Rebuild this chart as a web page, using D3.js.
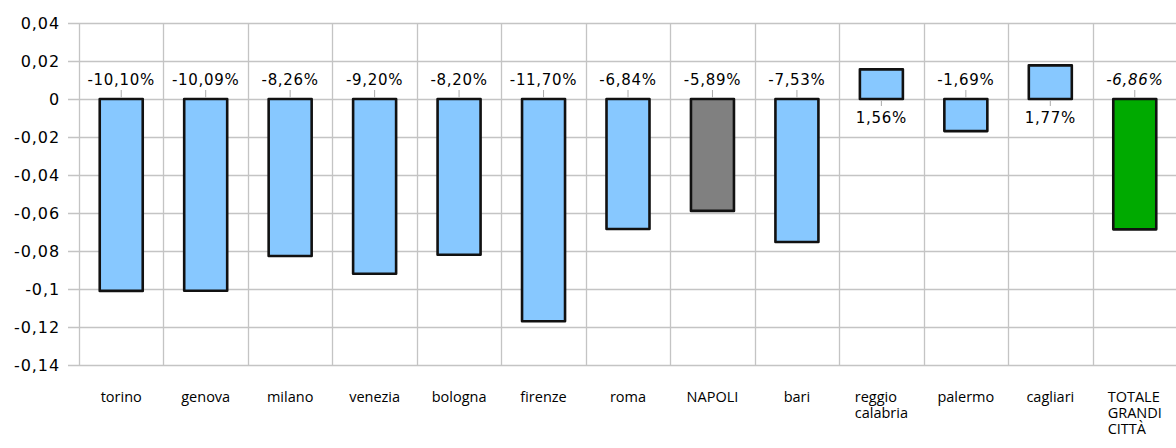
<!DOCTYPE html>
<html><head><meta charset="utf-8">
<script src="https://cdn.jsdelivr.net/npm/d3@7"></script>
<style>body{margin:0;background:#fff}svg{display:block}</style>
</head><body><svg id="c" width="1176" height="448"></svg>
<script>
const categories = ["torino","genova","milano","venezia","bologna","firenze","roma","NAPOLI","bari","reggio\ncalabria","palermo","cagliari","TOTALE\nGRANDI\nCITTÀ"];
const values = [-0.1010,-0.1009,-0.0826,-0.0920,-0.0820,-0.1170,-0.0684,-0.0589,-0.0753,0.0156,-0.0169,0.0177,-0.0686];
const barColors = ["#87c8ff","#87c8ff","#87c8ff","#87c8ff","#87c8ff","#87c8ff","#87c8ff","#808080","#87c8ff","#87c8ff","#87c8ff","#87c8ff","#00aa00"];
const yTicks = [0.04,0.02,0,-0.02,-0.04,-0.06,-0.08,-0.1,-0.12,-0.14];

(function(){
const svg = d3.select("#c");
const pLeft = 79, pRight = 1177, pTop = 23, pBottom = 365;
const x = d3.scaleBand().domain(categories).range([pLeft,pRight]).padding(0);
const y = d3.scaleLinear().domain([-0.14,0.04]).range([pBottom,pTop]);
const loc = d3.formatLocale({decimal:",",thousands:".",grouping:[3],currency:["","€"],minus:"-"});
const pct = loc.format(".2%");
const tickFmt = v => String(+v.toFixed(2)).replace(".",",");
const grid = "#c4c4c4";

svg.append("g").selectAll("line").data(yTicks).join("line")
  .attr("x1",pLeft-11).attr("x2",pRight).attr("y1",d=>Math.round(y(d))+0.5).attr("y2",d=>Math.round(y(d))+0.5)
  .attr("stroke",grid).attr("stroke-width",1.3);
svg.append("g").selectAll("line").data(categories).join("line")
  .attr("x1",d=>Math.round(x(d))+0.5).attr("x2",d=>Math.round(x(d))+0.5)
  .attr("y1",pTop).attr("y2",pBottom).attr("stroke",grid).attr("stroke-width",1.3);

svg.append("g").selectAll("text").data(yTicks).join("text")
  .attr("x",60).attr("y",d=>y(d)).attr("dy","0.36em").attr("text-anchor","end")
  .attr("font-family","DejaVu Sans").attr("font-size",16).attr("letter-spacing",0.9).attr("fill","#000")
  .text(tickFmt);

const bw = 43;
const cx = d => x(d) + x.bandwidth()/2;
svg.append("g").selectAll("rect").data(categories).join("rect")
  .attr("x",(d)=>cx(d)-bw/2).attr("width",bw)
  .attr("y",(d,i)=>y(Math.max(0,values[i]))).attr("height",(d,i)=>Math.abs(y(values[i])-y(0)))
  .attr("fill",(d,i)=>barColors[i]).attr("stroke","#111").attr("stroke-width",2.6)
  .attr("stroke-linejoin","round");

svg.append("g").selectAll("line").data(categories).join("line")
  .attr("x1",d=>cx(d)).attr("x2",d=>cx(d))
  .attr("y1",(d,i)=>values[i]<0 ? y(0)-1.5 : y(0)+1.5)
  .attr("y2",(d,i)=>values[i]<0 ? y(0)-9 : y(0)+7)
  .attr("stroke","#aaa").attr("stroke-width",1);

svg.append("g").selectAll("text").data(categories).join("text")
  .attr("x",d=>cx(d))
  .attr("y",(d,i)=>values[i]<0 ? y(0)-19 : y(0)+19)
  .attr("dy","0.36em").attr("text-anchor","middle")
  .attr("font-family","DejaVu Sans").attr("font-size",15).attr("letter-spacing",0.7)
  .attr("font-style",(d,i)=>i===categories.length-1?"italic":"normal")
  .text((d,i)=>pct(values[i]));

const cg = svg.append("g").attr("font-family","Open Sans").attr("font-size",14.5).attr("fill","#000");
categories.forEach(d=>{
  const lines = d.split("\n");
  const ts = lines.map((ln,k)=>cg.append("text").attr("y",397+k*16).attr("dy","0.36em").text(ln));
  const w = d3.max(ts, t=>t.node().getComputedTextLength());
  ts.forEach(t=>t.attr("x",cx(d)-w/2));
});
})();
</script></body></html>
